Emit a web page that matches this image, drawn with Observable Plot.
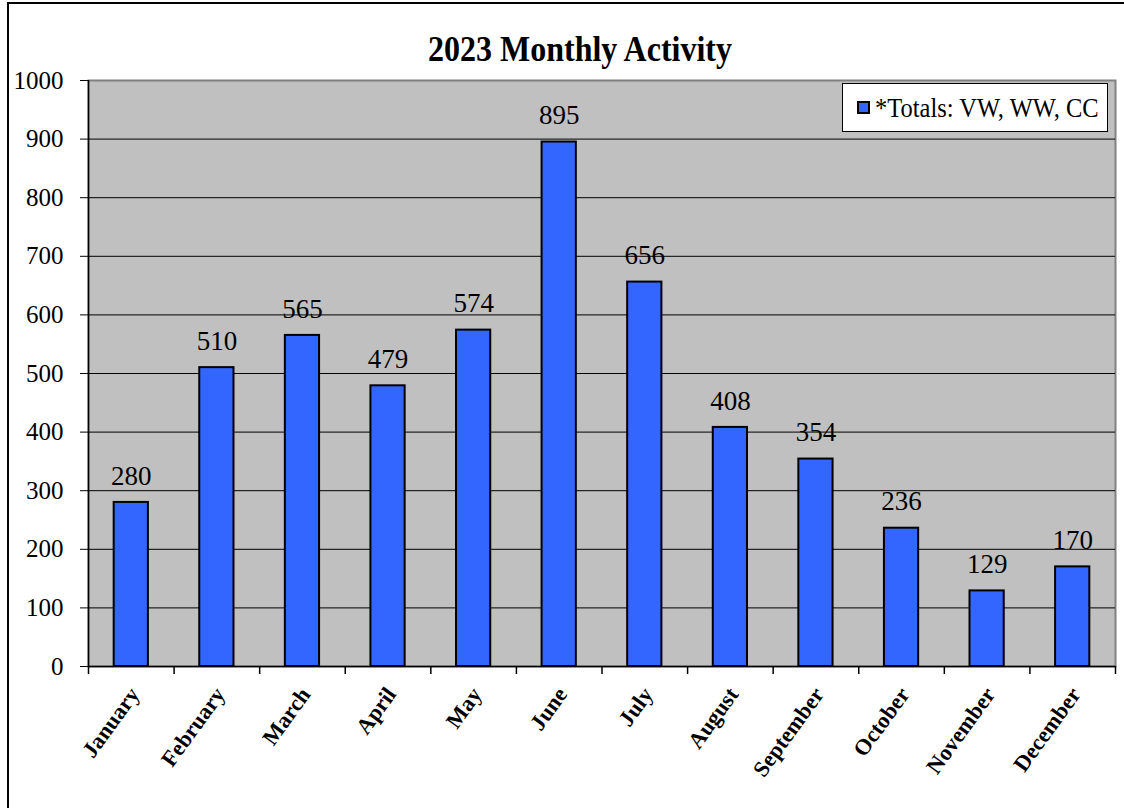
<!DOCTYPE html>
<html>
<head>
<meta charset="utf-8">
<script src="https://cdn.jsdelivr.net/npm/d3@7"></script>
<script src="https://cdn.jsdelivr.net/npm/@observablehq/plot@0.6"></script>
<style>
  body { margin: 0; background: #fff; }
  #wrap { position: relative; width: 1124px; height: 808px; overflow: hidden; font-family: "Liberation Serif", "Times New Roman", serif; }
  #chart { position: absolute; left: 0; top: 0; }
  #border { position: absolute; left: 7px; top: 2px; width: 1300px; height: 1000px; border-left: 2px solid #000; border-top: 2px solid #000; box-sizing: border-box; }
  #title { position: absolute; left: 580px; top: 32px; transform: translateX(-50%) scaleY(1.15); transform-origin: 50% 50%; font-weight: bold; font-size: 32px; line-height: 32px; white-space: nowrap; color: #000; }
  #legend { position: absolute; left: 842px; top: 83px; width: 266px; height: 49px; box-sizing: border-box; background: #fff; border: 1px solid #000; display: flex; align-items: center; padding-left: 14px; }
  #legend .sw { width: 13px; height: 13px; box-sizing: border-box; background: #3366FF; border: 2px solid #000; margin-right: 5px; }
  #legend .lb { font-size: 24.5px; line-height: 24px; color: #000; white-space: nowrap; transform: scaleY(1.12); }
</style>
</head>
<body>
<div id="wrap">
  <div id="chart"></div>
  <div id="border"></div>
  <div id="title"></div>
  <div id="legend"><div class="sw"></div><div class="lb"></div></div>
</div>
<script>
const titleText = "2023 Monthly Activity";
const seriesName = "*Totals: VW, WW, CC";
const months = ["January", "February", "March", "April", "May", "June", "July", "August", "September", "October", "November", "December"];
const values = [280, 510, 565, 479, 574, 895, 656, 408, 354, 236, 129, 170];
const yTicks = [0, 100, 200, 300, 400, 500, 600, 700, 800, 900, 1000];

document.getElementById("title").textContent = titleText;
document.querySelector("#legend .lb").textContent = seriesName;

const data = months.map((m, i) => ({month: m, value: values[i]}));
const gridTicks = yTicks.filter(t => t > 0 && t < 1000);

const W = 1124, H = 808, mL = 88, mR = 9, mT = 80, mB = 142;
const step = (W - mL - mR) / months.length;
const font = "Liberation Serif";

const plot = Plot.plot({
  width: W,
  height: H,
  marginLeft: mL,
  marginRight: mR,
  marginTop: mT,
  marginBottom: mB,
  style: {fontFamily: font, background: "transparent", overflow: "visible", color: "#000"},
  x: {domain: months, paddingInner: 0.6, paddingOuter: 0.3, round: false, axis: null},
  y: {domain: [0, 1000], axis: null},
  marks: [
    Plot.frame({fill: "#C0C0C0", stroke: "#808080", strokeWidth: 2}),
    Plot.ruleY(gridTicks, {stroke: "#000", strokeWidth: 1}),
    Plot.ruleY([0], {stroke: "#000", strokeWidth: 1.5}),
    Plot.ruleX([months[0]], {dx: -step / 2, stroke: "#000", strokeWidth: 1.5}),
    Plot.ruleX(months, {x: d => d, y1: 0, y2: 0, insetBottom: -8, dx: -step / 2, stroke: "#000", strokeWidth: 1.5}),
    Plot.ruleX([months[months.length - 1]], {x: d => d, y1: 0, y2: 0, insetBottom: -8, dx: step / 2, stroke: "#000", strokeWidth: 1.5}),
    Plot.axisY(yTicks, {label: null, tickSize: 8, tickPadding: 17, fontSize: 25, tickFormat: d => String(d), stroke: "#000"}),
    Plot.barY(data, {x: "month", y: "value", fill: "#3366FF", stroke: "#000", strokeWidth: 2}),
    Plot.text(data, {x: "month", y: "value", text: d => String(d.value), dy: -26.5, fontSize: 27, fill: "#000"}),
    Plot.text(months, {x: d => d, frameAnchor: "bottom", text: d => d, rotate: -54, textAnchor: "end", dx: 9, dy: 28, fontSize: 22.5, fontWeight: "bold", fill: "#000"})
  ]
});
document.getElementById("chart").appendChild(plot);
</script>
</body>
</html>
